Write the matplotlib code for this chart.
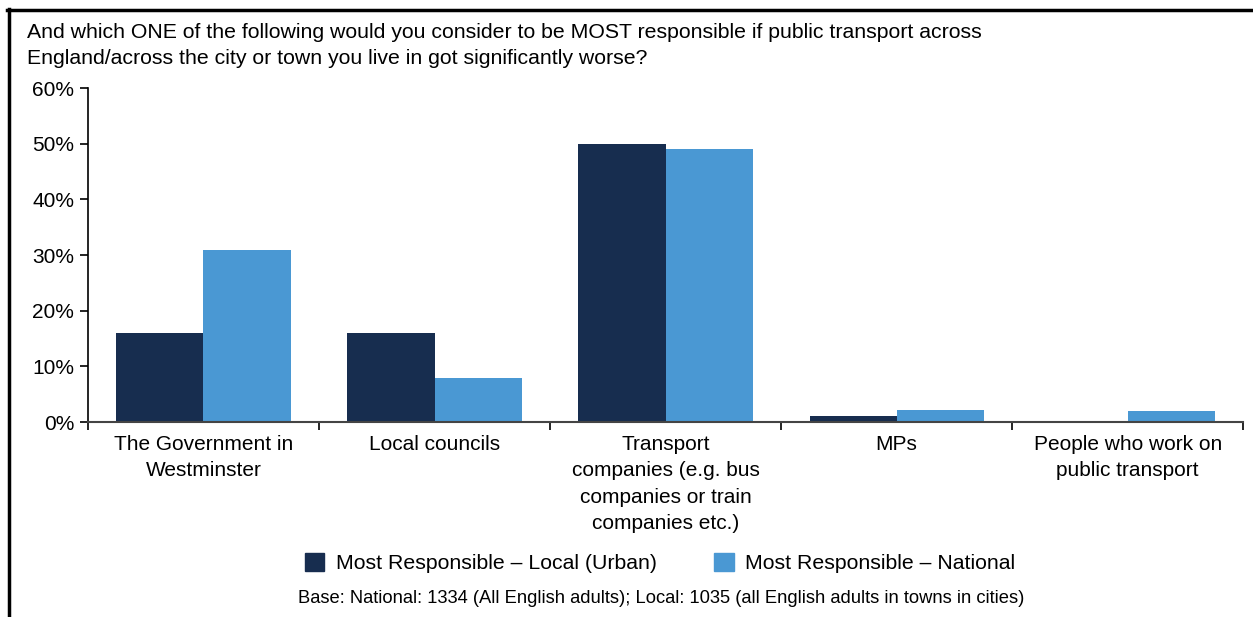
import numpy as np
import matplotlib.pyplot as plt
from matplotlib.lines import Line2D
from matplotlib.patches import Patch

plt.rcParams['font.family'] = ['Liberation Sans', 'DejaVu Sans']

# data
categories = ['The Government in\nWestminster', 'Local councils',
              'Transport\ncompanies (e.g. bus\ncompanies or train\ncompanies etc.)',
              'MPs', 'People who work on\npublic transport']
local_urban = [16, 16, 50, 1.1, 0]
national = [31, 8, 49, 2.2, 2]
series_names = ['Most Responsible \u2013 Local (Urban)', 'Most Responsible \u2013 National']
yticks = [0, 10, 20, 30, 40, 50, 60]

c_dark = '#172d4f'
c_light = '#4a98d3'

fig = plt.figure(figsize=(12.53, 6.17), dpi=100)
ax = fig.add_axes([0.0702, 0.316, 0.922, 0.541])

x = np.arange(len(categories))
w = 0.377
ax.bar(x - w / 2, local_urban, w, color=c_dark)
ax.bar(x + w / 2, national, w, color=c_light)

ax.set_xlim(-0.5, len(categories) - 0.5)
ax.set_ylim(0, 60)
ax.set_yticks(yticks)
ax.set_yticklabels([f'{v}%' for v in yticks], fontsize=15)
ax.set_xticks(x)
ax.set_xticklabels(categories, fontsize=15, linespacing=1.5)
ax.tick_params(axis='x', length=0, pad=9)
ax.tick_params(axis='y', length=6, width=1.2, pad=4)
# category boundary ticks on x axis
ax.set_xticks(np.arange(-0.5, len(categories)), minor=True)
ax.tick_params(axis='x', which='minor', length=6, width=1.2, direction='out')

for s in ['top', 'right']:
    ax.spines[s].set_visible(False)
ax.spines['left'].set_linewidth(1.2)
ax.spines['bottom'].set_linewidth(1.5)
ax.spines['bottom'].set_color('#444444')

fig.text(0.0215, 0.962, 'And which ONE of the following would you consider to be MOST responsible if public transport across\n'
         'England/across the city or town you live in got significantly worse?',
         fontsize=15.3, va='top', ha='left', linespacing=1.42)

handles = [Patch(color=c_dark), Patch(color=c_light)]
fig.legend(handles, series_names, loc='center', bbox_to_anchor=(0.527, 0.087),
           ncol=2, frameon=False, fontsize=15.3, handlelength=0.9, handleheight=0.9,
           columnspacing=2.7, handletextpad=0.55)

fig.text(0.528, 0.03, 'Base: National: 1334 (All English adults); Local: 1035 (all English adults in towns in cities)',
         fontsize=13.2, ha='center', va='center')

# frame lines (left and top)
fig.add_artist(Line2D([0.0068, 0.0068], [0, 0.985], color='black', lw=2.5, transform=fig.transFigure))
fig.add_artist(Line2D([0.0058, 1.0], [0.984, 0.984], color='black', lw=2.5, transform=fig.transFigure))

fig.savefig('out.png', dpi=100)
